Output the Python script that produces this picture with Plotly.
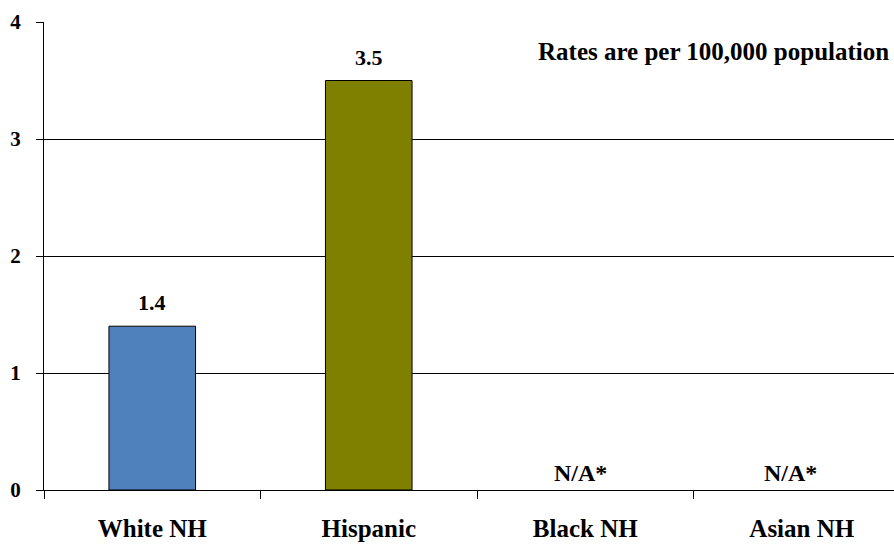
import plotly.graph_objects as go

# Rates per 100,000 population by race/ethnicity
categories = ["White NH", "Hispanic", "Black NH", "Asian NH"]
rates = [1.4, 3.5, None, None]
bar_colors = ["#4F81BD", "#808000", "#4F81BD", "#4F81BD"]
missing_label = "N/A*"
y_ticks = [0, 1, 2, 3, 4]
note = "Rates are per 100,000 population"

FONT = "Liberation Serif"

fig = go.Figure()
fig.add_trace(go.Bar(
    x=categories,
    y=rates,
    width=0.4,
    marker=dict(color=bar_colors, line=dict(color="black", width=1)),
    hoverinfo="x+y",
))

# Value labels above bars, "N/A*" where no rate is available
na_shift = {"Black NH": -5, "Asian NH": -11}
for cat, v in zip(categories, rates):
    if v is not None:
        fig.add_annotation(
            x=cat, y=v, text=f"<b>{v:.1f}</b>", showarrow=False,
            yanchor="bottom", yshift=9,
            font=dict(family=FONT, size=22, color="black"),
        )
    else:
        fig.add_annotation(
            x=cat, y=0, text=f"<b>{missing_label}</b>", showarrow=False,
            yanchor="bottom", yshift=2, xshift=na_shift.get(cat, 0),
            font=dict(family=FONT, size=24, color="black"),
        )

fig.add_annotation(
    xref="paper", yref="paper", x=0.997, y=0.936, xanchor="right", yanchor="middle",
    text=f"<b>{note}</b>", showarrow=False,
    font=dict(family=FONT, size=25, color="black"),
)

fig.update_layout(
    width=894, height=544,
    margin=dict(l=44, r=0, t=22, b=54),
    paper_bgcolor="white", plot_bgcolor="white",
    showlegend=False,
    font=dict(family=FONT, color="black"),
)

fig.update_xaxes(
    type="category",
    range=[-0.5, 3.426],
    tickson="boundaries",
    ticks="outside", ticklen=8, tickcolor="black", tickwidth=1,
    showline=True, linecolor="black", linewidth=1,
    showgrid=False, zeroline=False,
    tickfont=dict(family=FONT, size=25, color="black"),
    ticklabelstandoff=16,
    tickprefix="<b>", ticksuffix="</b>",
)
fig.update_yaxes(
    range=[0, 4],
    tickvals=y_ticks,
    ticktext=[f"<b>{t}</b>" for t in y_ticks],
    ticks="outside", ticklen=7, tickcolor="black", tickwidth=1,
    showline=True, linecolor="black", linewidth=1,
    showgrid=True, gridcolor="black", gridwidth=1,
    zeroline=False,
    tickfont=dict(family=FONT, size=21, color="black"),
    ticklabelstandoff=11,
)

fig.write_html("out.html")
